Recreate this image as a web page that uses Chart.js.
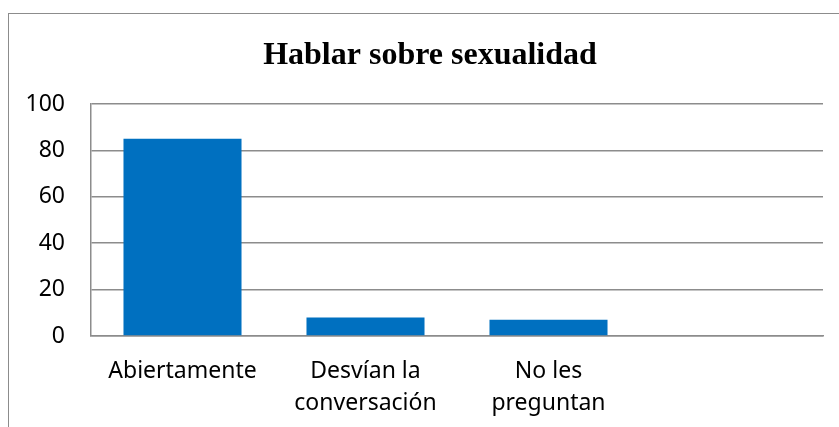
<!DOCTYPE html>
<html>
<head>
<meta charset="utf-8">
<script src="https://cdn.jsdelivr.net/npm/chart.js@4/dist/chart.umd.min.js"></script>
<style>
  html, body { margin: 0; padding: 0; background: #fff; overflow: hidden; }
  #wrap { position: relative; width: 839px; height: 427px; overflow: hidden; }
  #marco { position: absolute; left: 8px; top: 13px; width: 844px; height: 500px; border: 1.5px solid #8c8c8c; }
  #myChart { position: absolute; left: 0; top: 0; }
</style>
</head>
<body>
<div id="wrap">
  <div id="marco"></div>
  <canvas id="myChart" width="860" height="427"></canvas>
</div>
<script>
// datos
const categorias = [['Abiertamente'], ['Desvían la', 'conversación'], ['No les', 'preguntan'], ''];
const valores = [85, 8, 7, null];
const titulo = 'Hablar sobre sexualidad';
const yMin = 0;
const yMax = 100;
const yPaso = 20;

const gris = '#8c8c8c';

const data = {
    labels: categorias,
    datasets: [{
        label: titulo,
        data: valores,
        backgroundColor: '#0070C0',
        borderWidth: 0,
        barPercentage: 0.645,
        categoryPercentage: 1
    }]
};

const config = {
    type: 'bar',
    data: data,
    options: {
        responsive: false,
        animation: false,
        devicePixelRatio: 1,
        layout: { padding: 0 },
        plugins: {
            legend: { display: false },
            tooltip: { enabled: false },
            title: {
                display: true,
                text: titulo,
                color: '#000',
                font: { family: 'Liberation Serif', size: 32, weight: 'bold' },
                padding: { top: 37, bottom: 28.6 }
            }
        },
        scales: {
            x: {
                grid: { display: false },
                border: { display: true, color: gris, width: 1.5 },
                ticks: {
                    color: '#000',
                    padding: 11,
                    maxRotation: 0,
                    autoSkip: false,
                    font: { family: 'Noto Sans', size: 23, lineHeight: 1.39 }
                },
                afterFit: function (scale) { scale.height = 91; }
            },
            y: {
                min: yMin,
                max: yMax,
                grid: { color: gris, lineWidth: 1.5, drawTicks: false },
                border: { display: true, color: gris, width: 1.5 },
                ticks: {
                    stepSize: yPaso,
                    color: '#000',
                    padding: 26,
                    font: { family: 'Noto Sans', size: 23 }
                },
                afterFit: function (scale) { scale.width = 91; }
            },
            // espacio vacio a la derecha del area de trazado
            derecha: {
                type: 'linear',
                position: 'right',
                grid: { display: false },
                border: { display: false },
                ticks: { display: false },
                afterFit: function (scale) { scale.width = 37; }
            }
        }
    }
};

var myChart = new Chart(document.getElementById('myChart'), config);
</script>
</body>
</html>
